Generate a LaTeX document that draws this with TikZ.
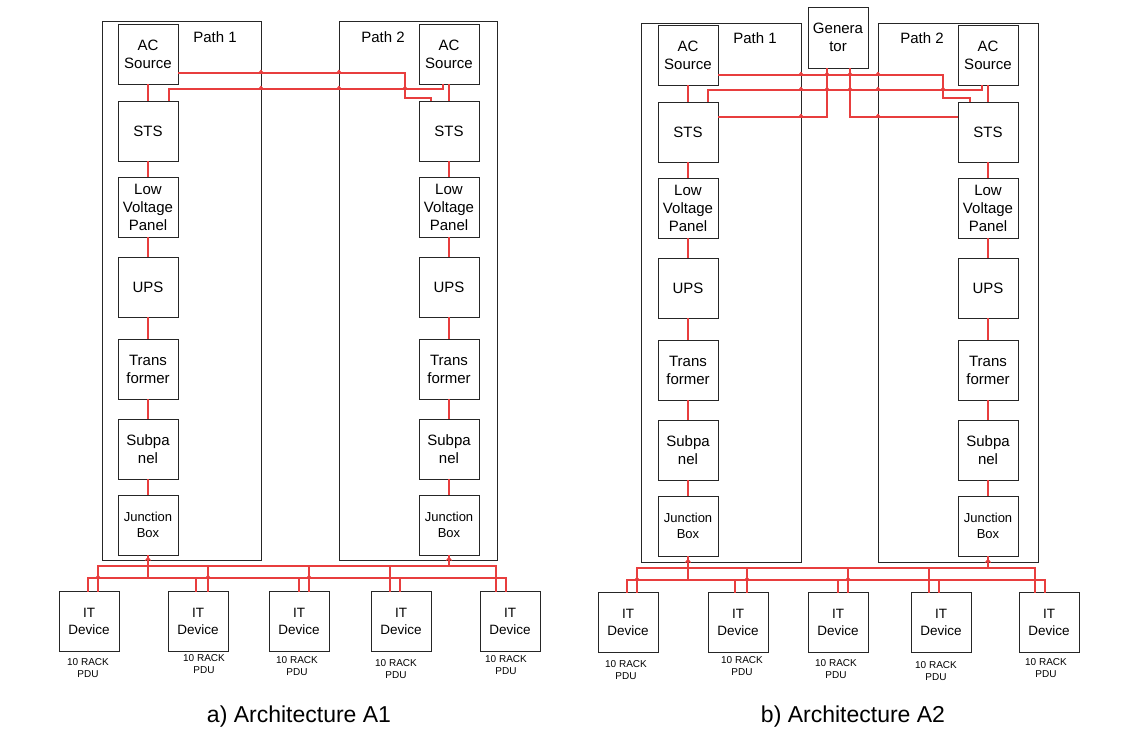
\documentclass[tikz,border=0pt]{standalone}
\usepackage{fontspec}
\setmainfont{Liberation Sans}
\usepackage{xcolor}
\usetikzlibrary{positioning}
\definecolor{wirered}{RGB}{232,62,62}
\tikzset{
  unit/.style={
    rectangle,
    draw=black!85, line width=0.9pt,
    minimum width=60pt,
    minimum height=60pt,
    inner sep=1pt, outer sep=0pt,
    align=center,
    font=\fontsize{15}{18}\selectfont},
  frame/.style={rectangle, draw=black!85, line width=0.9pt, inner sep=0pt, outer sep=0pt},
  wire/.style={draw=wirered, line width=1.4pt},
  hop/.pic={\draw[wire, line width=1.1pt, line join=miter] (-2.6pt,-0.6pt) -- (0pt,2.6pt) -- (2.6pt,-0.6pt);},
}

\begin{document}
\begin{tikzpicture}[x=1pt, y=-1pt]
    \tikzset{
        smallunit/.style={unit, font=\fontsize{13}{15.5}\selectfont},
        device/.style={unit, font=\fontsize{13.5}{16.5}\selectfont},
        pathname/.style={font=\fontsize{15}{18}\selectfont},
        pdu/.style={align=center, inner sep=0pt, font=\fontsize{10}{12}\selectfont},
        caption/.style={font=\fontsize{23}{27}\selectfont},
    }
    \path[use as bounding box] (0,0) rectangle (1138,734);

    % ---------- a) Architecture A1 ----------
    \node[frame, minimum width=159pt, minimum height=539pt] (path1) at (181.5,290.5) {};
    \node[frame, minimum width=158pt, minimum height=539pt] (path2) at (418,290.5) {};
    \node[pathname] (name1) at (215,37) {Path 1};
    \node[pathname] (name2) at (383,37) {Path 2};

    \node[unit] (ac1) at (148,54) {AC\\Source};
    \node[unit, below=17pt of ac1] (sts1) {STS};
    \node[unit, below=16pt of sts1] (lvp1) {Low\\Voltage\\Panel};
    \node[unit, below=20pt of lvp1] (ups1) {UPS};
    \node[unit, below=22pt of ups1] (tr1) {Trans\\former};
    \node[unit, below=20pt of tr1] (sub1) {Subpa\\nel};
    \node[smallunit, below=16pt of sub1] (jb1) {Junction\\Box};

    \node[unit] (ac2) at (449,54) {AC\\Source};
    \node[unit, below=17pt of ac2] (sts2) {STS};
    \node[unit, below=16pt of sts2] (lvp2) {Low\\Voltage\\Panel};
    \node[unit, below=20pt of lvp2] (ups2) {UPS};
    \node[unit, below=22pt of ups2] (tr2) {Trans\\former};
    \node[unit, below=20pt of tr2] (sub2) {Subpa\\nel};
    \node[smallunit, below=16pt of sub2] (jb2) {Junction\\Box};

    \node[device] (it1) at (89,621.5) {IT\\Device};
    \node[device, right=49pt of it1] (it2) {IT\\Device};
    \node[device, right=41pt of it2] (it3) {IT\\Device};
    \node[device, right=42pt of it3] (it4) {IT\\Device};
    \node[device, right=49pt of it4] (it5) {IT\\Device};
    \node[pdu] (pdu1) at (88,668) {10 RACK\\PDU};
    \node[pdu] (pdu2) at (204,664) {10 RACK\\PDU};
    \node[pdu] (pdu3) at (297,666.5) {10 RACK\\PDU};
    \node[pdu] (pdu4) at (396,669.5) {10 RACK\\PDU};
    \node[pdu] (pdu5) at (506,665.5) {10 RACK\\PDU};

    \path[wire] (ac1) edge (sts1) (sts1) edge (lvp1) (lvp1) edge (ups1)
        (ups1) edge (tr1) (tr1) edge (sub1) (sub1) edge (jb1);
    \path[wire] (ac2) edge (sts2) (sts2) edge (lvp2) (lvp2) edge (ups2)
        (ups2) edge (tr2) (tr2) edge (sub2) (sub2) edge (jb2);

    % cross feeds between the two paths
    \coordinate (topU1) at (0,73);
    \coordinate (topL1) at (0,89);
    \coordinate (jog1) at (405,98);
    \draw[wire] (ac1.east |- topU1) -| (jog1) -| ([xshift=-18pt]sts2.north);
    \draw[wire] ([xshift=-6pt]ac2.south) -- ([xshift=-6pt]ac2.south |- topL1) -| ([xshift=21pt]sts1.north);
    \pic at (path1.east |- topU1) {hop};
    \pic at (path2.west |- topU1) {hop};
    \pic at (path1.east |- topL1) {hop};
    \pic at (path2.west |- topL1) {hop};
    \pic at (jog1 |- topL1) {hop};

    % rack buses
    \coordinate (busU1) at (0,566);
    \coordinate (busL1) at (0,578);
    \draw[wire] ([xshift=9pt]it1.north) -- ([xshift=9pt]it1.north |- busU1) -| ([xshift=-14pt]it5.north);
    \draw[wire] ([xshift=-1pt]it1.north) -- ([xshift=-1pt]it1.north |- busL1) -| ([xshift=-4pt]it5.north);
    \draw[wire] ([xshift=-2pt]it2.north) -- ([xshift=-2pt]it2.north |- busL1);
    \draw[wire] ([xshift=10pt]it2.north) -- ([xshift=10pt]it2.north |- busU1);
    \draw[wire] (it3.north) -- (it3.north |- busL1);
    \draw[wire] ([xshift=10pt]it3.north) -- ([xshift=10pt]it3.north |- busU1);
    \draw[wire] ([xshift=-11pt]it4.north) -- ([xshift=-11pt]it4.north |- busU1);
    \draw[wire] ([xshift=-1pt]it4.north) -- ([xshift=-1pt]it4.north |- busL1);
    \draw[wire] (jb1) -- (jb1 |- busL1);
    \draw[wire] (jb2) -- (jb2 |- busU1);
    \pic at ([xshift=9pt]it1.north |- busL1) {hop};
    \pic at ([xshift=10pt]it2.north |- busL1) {hop};
    \pic at ([xshift=10pt]it3.north |- busL1) {hop};
    \pic at (jb1 |- path1.south) {hop};
    \pic at (jb2 |- path2.south) {hop};

    \node[caption] (capA) at (299,717) {a) Architecture A1};

    % ---------- b) Architecture A2 ----------
    \node[frame, minimum width=160pt, minimum height=539pt] (path3) at (721,292.5) {};
    \node[frame, minimum width=160pt, minimum height=539pt] (path4) at (958,292.5) {};
    \node[pathname] (name3) at (755,38) {Path 1};
    \node[pathname] (name4) at (922,38) {Path 2};
    \node[unit, minimum height=61pt] (gen) at (838,37.5) {Genera\\tor};

    \node[unit] (ac3) at (688,55) {AC\\Source};
    \node[unit, below=17pt of ac3] (sts3) {STS};
    \node[unit, below=16pt of sts3] (lvp3) {Low\\Voltage\\Panel};
    \node[unit, below=20pt of lvp3] (ups3) {UPS};
    \node[unit, below=22pt of ups3] (tr3) {Trans\\former};
    \node[unit, below=20pt of tr3] (sub3) {Subpa\\nel};
    \node[smallunit, below=16pt of sub3] (jb3) {Junction\\Box};

    \node[unit] (ac4) at (988,55) {AC\\Source};
    \node[unit, below=17pt of ac4] (sts4) {STS};
    \node[unit, below=16pt of sts4] (lvp4) {Low\\Voltage\\Panel};
    \node[unit, below=20pt of lvp4] (ups4) {UPS};
    \node[unit, below=22pt of ups4] (tr4) {Trans\\former};
    \node[unit, below=20pt of tr4] (sub4) {Subpa\\nel};
    \node[smallunit, below=16pt of sub4] (jb4) {Junction\\Box};

    \node[device] (it6) at (628,622.5) {IT\\Device};
    \node[device, right=50pt of it6] (it7) {IT\\Device};
    \node[device, right=40pt of it7] (it8) {IT\\Device};
    \node[device, right=43pt of it8] (it9) {IT\\Device};
    \node[device, right=48pt of it9] (it10) {IT\\Device};
    \node[pdu] (pdu6) at (626,670) {10 RACK\\PDU};
    \node[pdu] (pdu7) at (742,666.5) {10 RACK\\PDU};
    \node[pdu] (pdu8) at (836,669) {10 RACK\\PDU};
    \node[pdu] (pdu9) at (936,671) {10 RACK\\PDU};
    \node[pdu] (pdu10) at (1046,668) {10 RACK\\PDU};

    \path[wire] (ac3) edge (sts3) (sts3) edge (lvp3) (lvp3) edge (ups3)
        (ups3) edge (tr3) (tr3) edge (sub3) (sub3) edge (jb3);
    \path[wire] (ac4) edge (sts4) (sts4) edge (lvp4) (lvp4) edge (ups4)
        (ups4) edge (tr4) (tr4) edge (sub4) (sub4) edge (jb4);

    % cross feeds and generator feeds
    \coordinate (topU2) at (0,75);
    \coordinate (topL2) at (0,90);
    \coordinate (jog2) at (943,98);
    \coordinate (genW) at (0,117);
    \draw[wire] (ac3.east |- topU2) -| (jog2) -| ([xshift=-18pt]sts4.north);
    \draw[wire] ([xshift=-6pt]ac4.south) -- ([xshift=-6pt]ac4.south |- topL2) -| ([xshift=20pt]sts3.north);
    \draw[wire] (sts3.east |- genW) -| ([xshift=-11pt]gen.south);
    \draw[wire] ([xshift=12pt]gen.south) |- (sts4.west |- genW);
    \pic at (path3.east |- topU2) {hop};
    \pic at ([xshift=-11pt]gen.south |- topU2) {hop};
    \pic at ([xshift=12pt]gen.south |- topU2) {hop};
    \pic at (path4.west |- topU2) {hop};
    \pic at (path3.east |- topL2) {hop};
    \pic at ([xshift=-11pt]gen.south |- topL2) {hop};
    \pic at ([xshift=12pt]gen.south |- topL2) {hop};
    \pic at (path4.west |- topL2) {hop};
    \pic at (jog2 |- topL2) {hop};
    \pic at (path3.east |- genW) {hop};
    \pic at (path4.west |- genW) {hop};

    % rack buses
    \coordinate (busU2) at (0,568);
    \coordinate (busL2) at (0,580);
    \draw[wire] ([xshift=9pt]it6.north) -- ([xshift=9pt]it6.north |- busU2) -| ([xshift=-14pt]it10.north);
    \draw[wire] ([xshift=-1pt]it6.north) -- ([xshift=-1pt]it6.north |- busL2) -| ([xshift=-4pt]it10.north);
    \draw[wire] ([xshift=-3pt]it7.north) -- ([xshift=-3pt]it7.north |- busL2);
    \draw[wire] ([xshift=9pt]it7.north) -- ([xshift=9pt]it7.north |- busU2);
    \draw[wire] (it8.north) -- (it8.north |- busL2);
    \draw[wire] ([xshift=10pt]it8.north) -- ([xshift=10pt]it8.north |- busU2);
    \draw[wire] ([xshift=-12pt]it9.north) -- ([xshift=-12pt]it9.north |- busU2);
    \draw[wire] ([xshift=-2pt]it9.north) -- ([xshift=-2pt]it9.north |- busL2);
    \draw[wire] (jb3) -- (jb3 |- busL2);
    \draw[wire] (jb4) -- (jb4 |- busU2);
    \pic at ([xshift=9pt]it6.north |- busL2) {hop};
    \pic at ([xshift=9pt]it7.north |- busL2) {hop};
    \pic at ([xshift=10pt]it8.north |- busL2) {hop};
    \pic at (jb3 |- path3.south) {hop};
    \pic at (jb4 |- path4.south) {hop};

    \node[caption] (capB) at (853,717) {b) Architecture A2};
\end{tikzpicture}
\end{document}
